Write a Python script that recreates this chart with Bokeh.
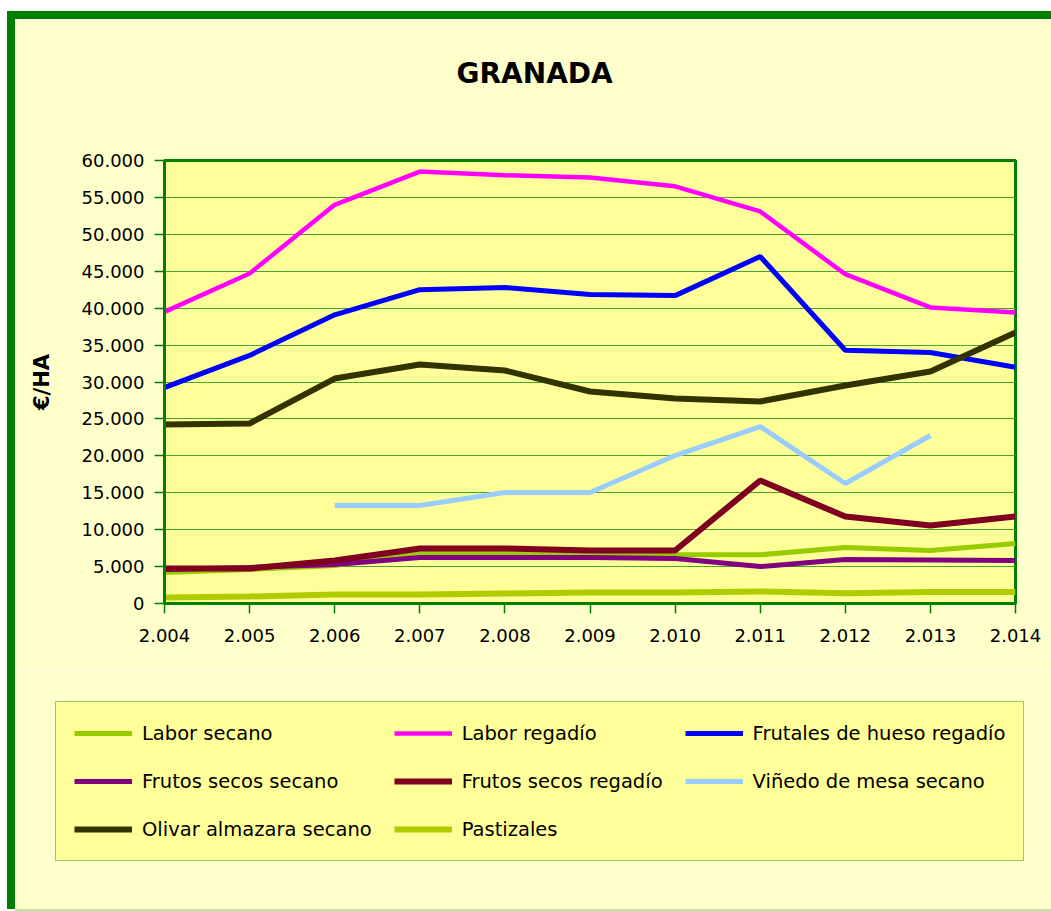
import math
from bokeh.plotting import figure
from bokeh.layouts import column
from bokeh.models import Range1d, FixedTicker, Legend, LegendItem, Title
from bokeh.embed import file_html
from bokeh.resources import INLINE

nan = float("nan")

# ---- data ----
years = [2004, 2005, 2006, 2007, 2008, 2009, 2010, 2011, 2012, 2013, 2014]
x_tick_labels = ["2.004", "2.005", "2.006", "2.007", "2.008", "2.009",
                 "2.010", "2.011", "2.012", "2.013", "2.014"]
y_ticks = [0, 5000, 10000, 15000, 20000, 25000, 30000, 35000, 40000, 45000, 50000, 55000, 60000]
y_tick_labels = ["0", "5.000", "10.000", "15.000", "20.000", "25.000", "30.000",
                 "35.000", "40.000", "45.000", "50.000", "55.000", "60.000"]

series_names = ["Labor secano", "Labor regadío", "Frutales de hueso regadío",
                "Frutos secos secano", "Frutos secos regadío", "Viñedo de mesa secano",
                "Olivar almazara secano", "Pastizales"]

labor_secano = [4200, 4600, 5150, 6900, 6900, 6770, 6640, 6600, 7580, 7180, 8130]
labor_regadio = [39500, 44700, 54000, 58500, 58000, 57700, 56500, 53100, 44600, 40100, 39400]
frutales_hueso_regadio = [29250, 33600, 39100, 42500, 42800, 41850, 41700, 47000, 34300, 34000, 32000]
frutos_secos_secano = [4600, 4880, 5280, 6230, 6230, 6230, 6100, 5000, 5960, 5900, 5820]
frutos_secos_regadio = [4740, 4740, 5820, 7450, 7450, 7180, 7180, 16660, 11780, 10560, 11780]
vinedo_mesa_secano = [nan, nan, 13270, 13270, 15030, 15030, 20040, 23970, 16250, 22750, nan]
olivar_almazara_secano = [24240, 24380, 30470, 32370, 31560, 28710, 27770, 27360, 29530, 31420, 36700]
pastizales = [810, 950, 1220, 1220, 1350, 1490, 1490, 1630, 1400, 1560, 1560]

series_values = [labor_secano, labor_regadio, frutales_hueso_regadio, frutos_secos_secano,
                 frutos_secos_regadio, vinedo_mesa_secano, olivar_almazara_secano, pastizales]
series_colors = ["#99cc00", "#ff00ff", "#0000ff", "#800080", "#7f0021", "#99ccff", "#333300", "#b0cc00"]
series_widths = [5, 4.5, 5, 5, 6, 5, 6, 6]

FONT = "DejaVu Sans"
BG = "#ffffcc"

# main chart: canvas at page x 15..1051, y 19..670
p = figure(width=1036, height=651,
           x_range=Range1d(2004, 2014), y_range=Range1d(0, 60000),
           output_backend="svg", toolbar_location=None,
           min_border_left=149, min_border_right=36, min_border_top=141, min_border_bottom=67,
           background_fill_color="#ffff99", border_fill_color=BG,
           outline_line_color="#008000", outline_line_width=3)
p.frame_align = False

# spacer between frame and title (pushes the title up)
p.add_layout(Title(text=" ", text_font_size="1px", standoff=68), "above")

# title
p.title.text = "GRANADA"
p.title.align = "left"
p.title.offset = 292
p.title.text_font = FONT
p.title.text_font_size = "28px"
p.title.text_font_style = "bold"
p.title.text_color = "#000000"
p.title.standoff = 0

# axes
p.xaxis.ticker = FixedTicker(ticks=years)
p.xaxis.major_label_overrides = {y: lab for y, lab in zip(years, x_tick_labels)}
p.yaxis.ticker = FixedTicker(ticks=y_ticks)
p.yaxis.major_label_overrides = {v: lab for v, lab in zip(y_ticks, y_tick_labels)}
for ax in (p.xaxis[0], p.yaxis[0]):
    ax.axis_line_color = "#008000"
    ax.axis_line_width = 3
    ax.major_tick_line_color = "#008000"
    ax.major_tick_line_width = 1.5
    ax.major_tick_out = 10
    ax.major_tick_in = 0
    ax.minor_tick_line_color = None
    ax.major_label_text_font = FONT
    ax.major_label_text_font_size = "18px"
    ax.major_label_text_color = "#000000"
p.xaxis.major_label_standoff = 15
p.yaxis.major_label_standoff = 10
p.yaxis.axis_label = "€/HA"
p.yaxis.axis_label_text_font = FONT
p.yaxis.axis_label_text_font_size = "21px"
p.yaxis.axis_label_text_font_style = "bold"
p.yaxis.axis_label_text_color = "#000000"
p.yaxis.axis_label_standoff = 25

p.xgrid.grid_line_color = None
p.ygrid.grid_line_color = "#4aa332"
p.ygrid.grid_line_width = 1

for vals, col, w in zip(series_values, series_colors, series_widths):
    p.line(years, vals, line_color=col, line_width=w)

# legend panel: canvas at page x 15..1051, y 670..909
pl = figure(width=1036, height=239, x_range=Range1d(0, 1), y_range=Range1d(0, 1),
            output_backend="svg", toolbar_location=None,
            x_axis_type=None, y_axis_type=None, min_border=0,
            background_fill_color=BG, border_fill_color=BG, outline_line_color=None)
pl.frame_align = False
pl.xgrid.grid_line_color = None
pl.ygrid.grid_line_color = None

items = []
for name, vals, col, w in zip(series_names, series_values, series_colors, series_widths):
    r = pl.line(years, vals, line_color=col, line_width=w)  # outside pl's ranges: legend swatch only
    items.append(LegendItem(label=name, renderers=[r]))

legend = Legend(items=items, location=(40, 48), ncols=3, orientation="horizontal",
                glyph_width=58, glyph_height=26, label_height=26, label_standoff=10,
                spacing=22, padding=18, margin=0,
                label_text_font=FONT, label_text_font_size="19.5px", label_text_color="#000000",
                border_line_color="#2e9a2e", border_line_width=1,
                background_fill_color="#ffff99", background_fill_alpha=1.0)
pl.add_layout(legend, "center")

layout = column(p, pl, spacing=0)
layout.styles = {"margin-left": "15px", "margin-top": "19px",
                 "box-shadow": "-4px -4px 0 4px #008000, 0 2px 0 0 #b8e6a0"}

open("out.html", "w").write(file_html(layout, INLINE))
